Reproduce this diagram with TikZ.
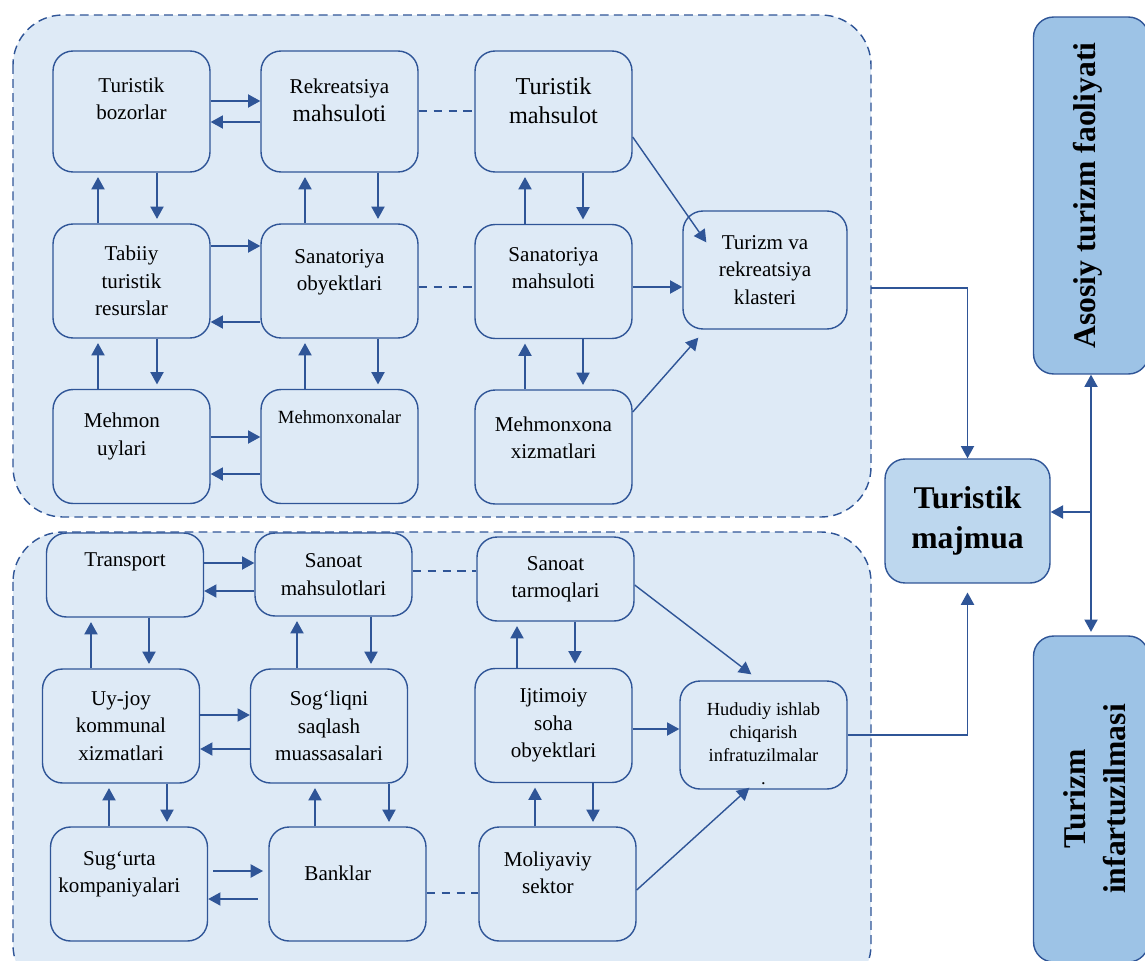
\documentclass[tikz,border=0pt]{standalone}
\usepackage{fontspec}
\setmainfont{Liberation Serif}
\usepackage{xcolor}
\usetikzlibrary{arrows.meta,positioning,calc}
\definecolor{dblue}{RGB}{47,85,151}
\definecolor{zonefill}{RGB}{222,234,246}
\definecolor{midfill}{RGB}{189,215,238}
\definecolor{sidefill}{RGB}{157,195,230}
\newcommand{\rpad}{\hspace*{11pt}}
\begin{document}
\begin{tikzpicture}[x=0.02cm,y=-0.02cm,line width=0.8pt,>={Triangle[length=7pt,width=7.5pt]},
  zone/.style={draw=dblue,fill=zonefill,dash pattern=on 5pt off 3pt,rounded corners=1cm},
  box/.style={draw=dblue,fill=zonefill,rounded corners=0.4cm,align=center,inner sep=2pt,minimum width=3.14cm,minimum height=2.28cm,font=\fontsize{12}{15.5}\selectfont},
  lift/.style={text depth=#1},
  side/.style={draw=dblue,fill=sidefill,rounded corners=0.4cm,align=center,rotate=90,minimum height=2.3cm,font=\fontsize{18}{22.5}\selectfont\bfseries},
  con/.style={dblue,->},
  vcon/.style={con,shorten >=2.5pt},
  dcon/.style={dblue,dash pattern=on 5pt off 3.5pt}]
\useasboundingbox (0,0) rectangle (1145,960);
\clip (0,0) rectangle (1145,960);
\draw[zone] (13,15) rectangle (871,517);
\draw[zone] (13,532) rectangle (871,995);

\node[box,lift=14.5pt,minimum height=2.42cm] (tb) at (131.5,111.5) {Turistik\\bozorlar};
\node[box,lift=13pt,minimum height=2.42cm] (rm) at (339.5,111.5) {Rekreatsiya\\\fontsize{13.5}{16}\selectfont mahsuloti};
\node[box,lift=12pt,minimum height=2.42cm,font=\fontsize{13.8}{16.5}\selectfont] (tm) at (553.5,111.5) {Turistik\\mahsulot};
\node[box] (tr) at (131.5,281) {Tabiiy\\turistik\\resurslar};
\node[box,lift=12.5pt] (so) at (339.5,281) {Sanatoriya\\obyektlari};
\node[box,lift=15.5pt] (sm) at (553.5,281.5) {Sanatoriya\\mahsuloti};
\node[box,minimum width=3.28cm,minimum height=2.36cm] (kl) at (765,270) {Turizm va\\rekreatsiya\\klasteri};
\node[box,lift=14pt] (mu) at (131.5,446.5) {Mehmon\rpad\\uylari\rpad};
\node[box,lift=33pt,font=\fontsize{10.6}{12}\selectfont] (mx) at (339.5,446.5) {Mehmonxonalar};
\node[box,lift=11pt] (mxx) at (553.5,447) {Mehmonxona\\xizmatlari};

\node[box,lift=17pt,minimum height=1.68cm] (tp) at (125,575) {Transport};
\node[box,minimum height=1.66cm] (smh) at (333.5,574.5) {Sanoat\\mahsulotlari};
\node[box,minimum height=1.68cm] (st) at (555.5,579) {Sanoat\\tarmoqlari};
\node[box] (uj) at (121,726) {Uy-joy\\kommunal\\xizmatlari};
\node[box] (sq) at (329,726) {Sog‘liqni\\saqlash\\muassasalari};
\node[box] (ij) at (553.5,725.5) {Ijtimoiy\\soha\\obyektlari};
\node[box,minimum width=3.34cm,minimum height=2.16cm,font=\fontsize{10.5}{13}\selectfont] (hu) at (763.5,735) {\rule{0pt}{17.5pt}Hududiy ishlab\\chiqarish\\infratuzilmalar\\.};
\node[box,lift=14pt] (su) at (129,884) {Sug‘urta\rpad\\kompaniyalari\rpad};
\node[box,lift=12pt] (bk) at (347.5,884) {Banklar\rpad};
\node[box,lift=12.5pt] (ms) at (557.5,884) {Moliyaviy\rpad\\sektor\rpad};

\node[box,fill=midfill,minimum width=3.3cm,minimum height=2.48cm,font=\fontsize{18}{22.5}\selectfont\bfseries] (tmj) at (967.5,521) {Turistik\\majmua};
\node[side,lift=7.5pt,minimum width=7.14cm] (asos) at (1091,195.5) {Asosiy turizm faoliyati};
\node[side,minimum width=6.52cm] (infra) at (1091,799) {\rule{0pt}{16.5pt}Turizm\\infartuzilmasi};

\draw[con] (tb.east |- 0,101) -- (rm.west |- 0,101);
\draw[con] (rm.west |- 0,122) -- (tb.east |- 0,122);
\draw[con] (tr.east |- 0,246) -- (so.west |- 0,246);
\draw[con] (so.west |- 0,322) -- (tr.east |- 0,322);
\draw[con] (mu.east |- 0,437) -- (mx.west |- 0,437);
\draw[con] (mx.west |- 0,474) -- (mu.east |- 0,474);
\draw[vcon] (tr.north -| 98,0) -- (tb.south -| 98,0);
\draw[vcon] (tb.south -| 157,0) -- (tr.north -| 157,0);
\draw[vcon] (so.north -| 305,0) -- (rm.south -| 305,0);
\draw[vcon] (rm.south -| 378,0) -- (so.north -| 378,0);
\draw[vcon] (sm.north -| 525,0) -- (tm.south -| 525,0);
\draw[vcon] (tm.south -| 583,0) -- (sm.north -| 583,0);
\draw[vcon] (mu.north -| 98,0) -- (tr.south -| 98,0);
\draw[vcon] (tr.south -| 157,0) -- (mu.north -| 157,0);
\draw[vcon] (mx.north -| 305,0) -- (so.south -| 305,0);
\draw[vcon] (so.south -| 378,0) -- (mx.north -| 378,0);
\draw[vcon] (mxx.north -| 525,0) -- (sm.south -| 525,0);
\draw[vcon] (sm.south -| 583,0) -- (mxx.north -| 583,0);
\draw[dcon] (rm.east |- 0,111) -- (tm.west |- 0,111);
\draw[dcon] (so.east |- 0,287) -- (sm.west |- 0,287);
\draw[con] (tm.east |- 0,137) -- ([shift={(24,32)}]kl.north west);
\draw[con] (sm.east |- 0,287) -- (kl.west |- 0,287);
\draw[con] (mxx.east |- 0,412) -- ([shift={(16,8)}]kl.south west);

\draw[con] (tp.east |- 0,563) -- (smh.west |- 0,563);
\draw[con] (smh.west |- 0,591) -- (tp.east |- 0,591);
\draw[con] (uj.east |- 0,715) -- (sq.west |- 0,715);
\draw[con] (sq.west |- 0,749) -- (uj.east |- 0,749);
\draw[con,shorten <=3pt,shorten >=3pt] (su.east |- 0,871) -- (bk.west |- 0,871);
\draw[con,shorten <=6pt] (bk.west |- 0,899) -- (su.east |- 0,899);
\draw[vcon] (uj.north -| 91,0) -- (tp.south -| 91,0);
\draw[vcon] (tp.south -| 149,0) -- (uj.north -| 149,0);
\draw[vcon] (su.north -| 109,0) -- (uj.south -| 109,0);
\draw[vcon] (uj.south -| 167,0) -- (su.north -| 167,0);
\draw[vcon] (sq.north -| 297,0) -- (smh.south -| 297,0);
\draw[vcon] (smh.south -| 371,0) -- (sq.north -| 371,0);
\draw[vcon] (bk.north -| 315,0) -- (sq.south -| 315,0);
\draw[vcon] (sq.south -| 389,0) -- (bk.north -| 389,0);
\draw[vcon] (ij.north -| 517,0) -- (st.south -| 517,0);
\draw[vcon] (st.south -| 575,0) -- (ij.north -| 575,0);
\draw[vcon] (ms.north -| 535,0) -- (ij.south -| 535,0);
\draw[vcon] (ij.south -| 593,0) -- (ms.north -| 593,0);
\draw[dcon] (smh.east |- 0,571) -- (st.west |- 0,571);
\draw[dcon] (bk.east |- 0,893) -- (ms.west |- 0,893);
\draw[con] (st.east |- 0,585) -- ([shift={(72,-6)}]hu.north west);
\draw[con] (ij.east |- 0,729) -- (hu.west |- 0,729);
\draw[con] (ms.east |- 0,890) -- ([shift={(70,-2)}]hu.south west);

\coordinate (k1) at (871,288);
\coordinate (j) at (1091,512);
\draw[con] (k1) -| (tmj.north);
\draw[con,shorten >=5pt] (hu.east) -| (tmj.south);
\draw[dblue,<->,shorten >=2pt] (asos.west) -- (infra.east);
\draw[con] (j) -- (tmj.east |- j);
\end{tikzpicture}
\end{document}
